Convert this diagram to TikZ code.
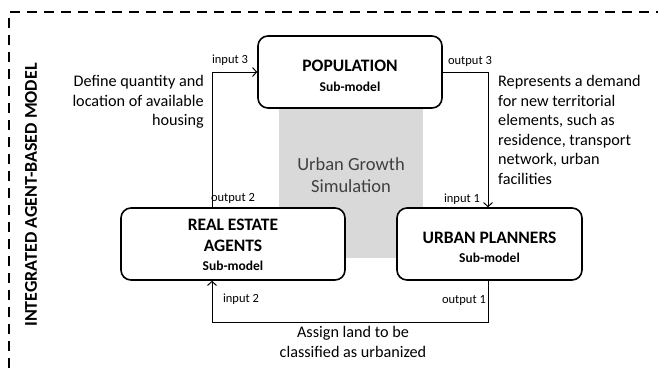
\documentclass[tikz,border=0pt]{standalone}
\usepackage{fontspec}
\setmainfont{Carlito}
\usetikzlibrary{arrows.meta}
\begin{document}
\begin{tikzpicture}[x=1pt,y=-1pt,
  submodel/.style={draw,line width=1.6pt,rounded corners=10pt,fill=white,align=center,inner sep=0pt},
  conn/.style={line width=1pt},
  arr/.style={conn,-{Straight Barb[length=4pt,width=9pt,line width=1pt]}},
  port/.style={font=\fontsize{12.5}{14}\selectfont,inner sep=1pt},
  desc/.style={font=\fontsize{16.2}{19.6}\selectfont,inner sep=0pt},
  big/.style={font=\bfseries\fontsize{17.5}{20}\selectfont},
  sub/.style={font=\bfseries\fontsize{13.5}{16}\selectfont}]
\useasboundingbox (0,0) rectangle (658,373);
% outer dashed border
\draw[line width=2.2pt,dash pattern=on 10pt off 7pt] (9,385) -- (9,12) -- (670,12);
\node[rotate=90,font=\bfseries\fontsize{18}{20}\selectfont] (title) at (31,195) {INTEGRATED AGENT-BASED MODEL};
% grey simulation area
\fill[gray!30] (279,106) rectangle (423,258);
\node[font=\fontsize{18.5}{22}\selectfont,text=black!75,align=center] (sim) at (351,175) {Urban Growth\\Simulation};
% sub-models
\node[submodel,minimum width=184pt,minimum height=72pt] (pop) at (350,72) {};
\node[big] (popt) at (350,66) {POPULATION};
\node[sub] (pops) at (350,87) {Sub-model};
\node[submodel,minimum width=224pt,minimum height=72pt] (rea) at (233,244) {};
\node[big] (reat1) at (233,225) {REAL ESTATE};
\node[big] (reat2) at (233,246) {AGENTS};
\node[sub] (reas) at (233,266) {Sub-model};
\node[submodel,minimum width=185pt,minimum height=72pt] (upl) at (489.5,244) {};
\node[big] (uplt) at (489.5,238) {URBAN PLANNERS};
\node[sub] (upls) at (489.5,258) {Sub-model};
% connector corners
\coordinate (c1) at (212,72);
\coordinate (c2) at (488,72);
\coordinate (c3) at (488,322);
\coordinate (c4) at (212,322);
\draw[arr] (rea.north -| c1) -- (c1) -- (pop.west);
\draw[arr] (pop.east) -- (c2) -- (upl.north -| c2);
\draw[arr] (upl.south -| c3) -- (c3) -- (c4) -- (rea.south -| c4);
% port labels
\node[port] (in3) at (230,60) {input 3};
\node[port] (out3) at (470,61) {output 3};
\node[port] (out2) at (233,198) {output 2};
\node[port] (in1) at (462,199) {input 1};
\node[port] (in2) at (241,299) {input 2};
\node[port] (out1) at (464,300) {output 1};
% descriptions
\node[desc,align=right,anchor=north east] (d1) at (204,75) {Define quantity and\\location of available\\housing};
\node[desc,align=left,anchor=north west] (d2) at (498,75) {Represents a demand\\for new territorial\\elements, such as\\residence, transport\\network, urban\\facilities};
\node[desc,align=center,anchor=north] (d3) at (353,326) {Assign land to be\\classified as urbanized};
\end{tikzpicture}
\end{document}
